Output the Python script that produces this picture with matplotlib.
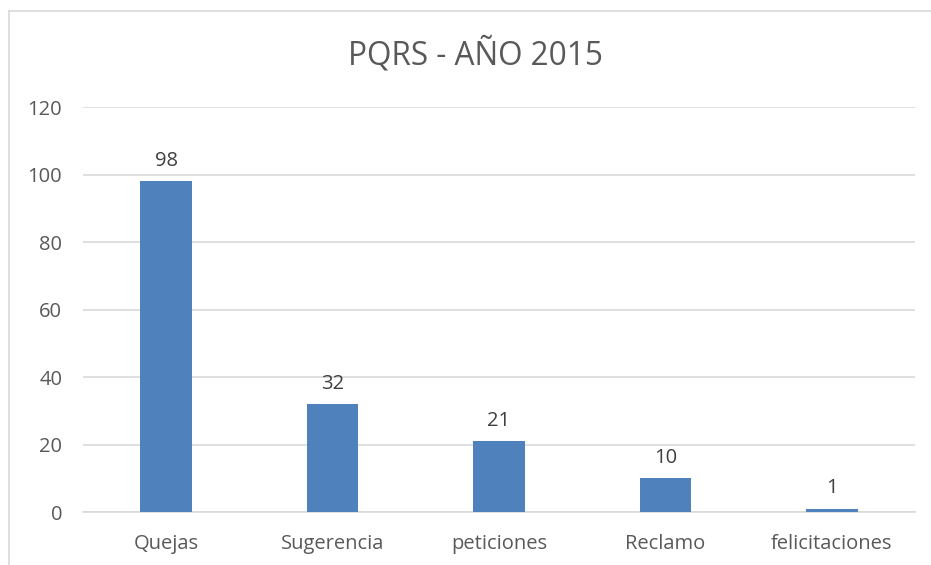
import matplotlib
matplotlib.use("Agg")
import matplotlib.pyplot as plt
from matplotlib.lines import Line2D

# data
categories = ["Quejas", "Sugerencia", "peticiones", "Reclamo", "felicitaciones"]
counts = [98, 32, 21, 10, 1]
y_ticks = [0, 20, 40, 60, 80, 100, 120]
title = "PQRS - AÑO 2015"

bar_color = "#4F81BD"
text_color = "#595959"
grid_color = "#D9D9D9"

plt.rcParams["font.family"] = ["Open Sans", "DejaVu Sans"]

fig = plt.figure(figsize=(9.31, 5.65), dpi=100)
ax = fig.add_axes([0.0892, 0.0938, 0.8936, 0.7168])

x = range(len(categories))
bars = ax.bar(x, counts, width=0.31, color=bar_color, zorder=3)

# value labels above the bars
for rect, val in zip(bars, counts):
    ax.annotate(str(val), (rect.get_x() + rect.get_width() / 2, rect.get_height()),
                xytext=(0, 7.5), textcoords="offset points",
                ha="center", va="bottom", fontsize=14.5, color="#404040")

ax.set_xlim(-0.5, len(categories) - 0.5)
ax.set_ylim(0, 120)
ax.set_yticks(y_ticks)
ax.set_xticks(list(x))
ax.set_xticklabels(categories)

ax.grid(axis="y", color=grid_color, linewidth=1.2, zorder=0)
for side in ["top", "right", "left"]:
    ax.spines[side].set_visible(False)
ax.spines["bottom"].set_color(grid_color)
ax.spines["bottom"].set_linewidth(1.2)
ax.tick_params(axis="both", length=0, labelsize=14.5, colors=text_color)
ax.tick_params(axis="y", pad=15)
ax.tick_params(axis="x", pad=16)

fig.text(0.511, 0.903, title, ha="center", va="center", fontsize=22.7, color=text_color)

# outer chart frame (top and left edges visible)
fig.add_artist(Line2D([9 / 931, 9 / 931], [0, 1 - 11 / 565], transform=fig.transFigure,
                      color=grid_color, linewidth=1.2))
fig.add_artist(Line2D([9 / 931, 1], [1 - 11 / 565, 1 - 11 / 565], transform=fig.transFigure,
                      color=grid_color, linewidth=1.2))

fig.savefig("out.png", dpi=100, facecolor="white")
